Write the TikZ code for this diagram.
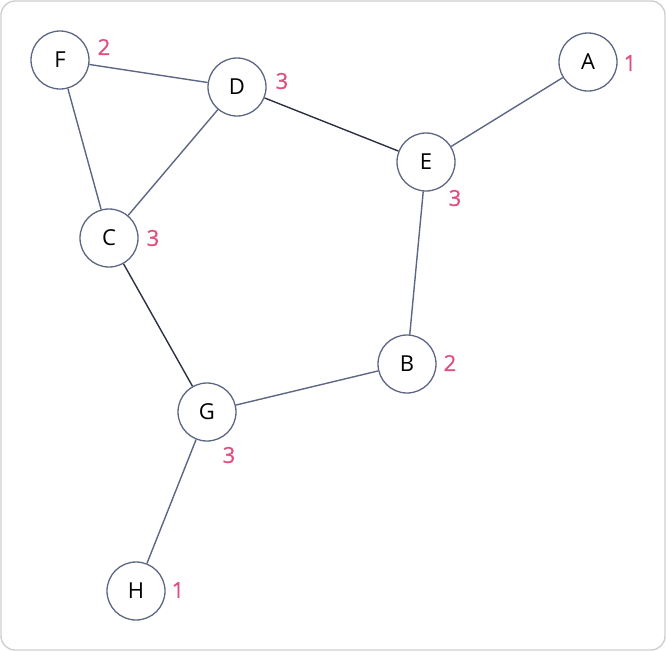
\documentclass[tikz,border=0pt]{standalone}
\usepackage{fontspec}
\setmainfont{Open Sans}
\newfontfamily\degfont[FakeBold=0.8]{Open Sans}
\definecolor{edgec}{HTML}{5D6784}
\definecolor{darkedge}{HTML}{2B3142}
\definecolor{pinkc}{HTML}{E0507E}
\definecolor{framec}{HTML}{CFCFCF}
\tikzset{
  vert/.style={circle,draw=edgec,line width=1.3pt,fill=white,minimum size=58pt,inner sep=0pt,font=\fontsize{22}{26}\selectfont},
  deg/.style={text=pinkc,font=\degfont\fontsize{22}{26}\selectfont,inner sep=0pt},
  edge/.style={draw=edgec,line width=1.4pt},
  dedge/.style={draw=darkedge,line width=1.4pt}}
\begin{document}
\begin{tikzpicture}[x=1pt,y=-1pt]
\useasboundingbox (0,0) rectangle (666,651);
\draw[framec,line width=1.4pt,rounded corners=14pt] (1,1) rectangle (665,650);
\node[vert] (F) at (60,60) {F};
\node[vert] (D) at (237,87) {D};
\node[vert] (A) at (588,62) {A};
\node[vert] (E) at (426,162) {E};
\node[vert] (C) at (109,238) {C};
\node[vert] (B) at (407,364) {B};
\node[vert] (G) at (207,412) {G};
\node[vert] (H) at (136,591) {H};
\node[deg] (lF) at (104,47) {2};
\node[deg] (lD) at (282,81) {3};
\node[deg] (lA) at (630,63) {1};
\node[deg] (lE) at (455,198) {3};
\node[deg] (lC) at (153,238) {3};
\node[deg] (lB) at (450,363) {2};
\node[deg] (lG) at (229,455) {3};
\node[deg] (lH) at (178,590) {1};
\draw[edge] (F) -- (D);
\draw[edge] (F) -- (C);
\draw[edge] (D) -- (C);
\draw[dedge] (D) -- (E);
\draw[edge] (E) -- (A);
\draw[edge] (E) -- (B);
\draw[dedge] (C) -- (G);
\draw[edge] (G) -- (B);
\draw[edge] (G) -- (H);
\end{tikzpicture}
\end{document}
